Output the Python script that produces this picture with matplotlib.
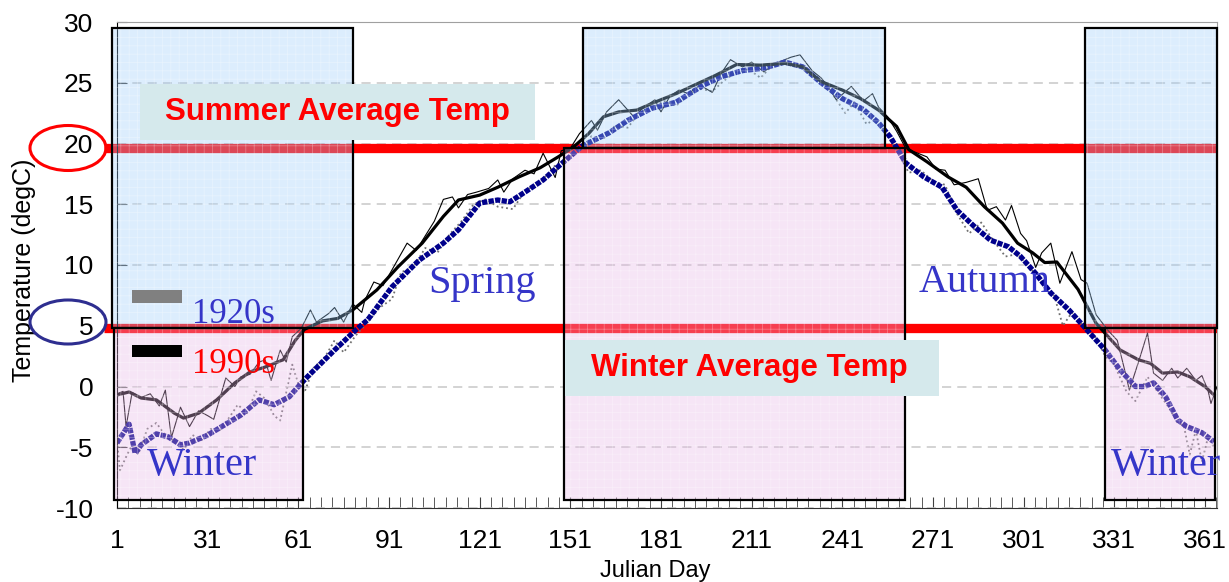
import numpy as np
import matplotlib
matplotlib.use("Agg")
import matplotlib.pyplot as plt
from matplotlib.patches import Rectangle, Ellipse

W, H = 1229, 582

# 1990s daily values (thin black) and smoothed (thick black)
d90_day = [1, 3, 4, 6, 9, 12, 15, 17, 19, 22, 25, 28, 31, 33, 37, 40, 42, 45, 48, 50,
           52, 55, 57, 59, 62, 65, 67, 71, 73, 76, 79, 82, 83, 86, 89, 92, 97, 100, 103, 106,
           109, 112, 114, 117, 120, 124, 127, 129, 132, 136, 139, 142, 146, 148, 151, 154, 158, 160, 163, 167,
           172, 175, 179, 181, 184, 187, 190, 194, 198, 201, 204, 208, 211, 215, 219, 224, 227, 231, 234, 236,
           239, 244, 248, 251, 253, 256, 259, 262, 266, 269, 272, 275, 278, 282, 286, 289, 292, 295, 297, 300,
           302, 305, 307, 310, 313, 317, 320, 322, 325, 329, 332, 335, 336, 339, 342, 344, 347, 350, 352, 355,
           358, 360, 362, 363, 365]
d90_temp = [-0.6, -0.4, -3.3, -0.5, -0.9, -0.6, -1.6, -0.3, -4.2, -1.7, -3.3, -2.0, -2.4, -2.7, 0.7, 0.0, 0.8, 1.0, 2.0, 2.2,
            0.5, 3.0, 2.0, 4.1, 4.8, 6.3, 5.3, 6.0, 6.5, 5.3, 6.8, 6.1, 7.1, 8.6, 8.3, 9.6, 11.8, 11.2, 12.4, 13.6,
            15.4, 15.6, 14.7, 15.8, 16.0, 16.3, 17.0, 16.0, 17.1, 17.8, 17.5, 19.2, 17.2, 19.4, 19.6, 20.8, 21.9, 21.1, 22.6, 23.6,
            22.2, 22.9, 23.6, 22.6, 23.9, 24.4, 24.1, 24.8, 24.2, 25.8, 26.9, 26.3, 26.7, 25.9, 26.6, 27.1, 27.3, 26.0, 25.4, 24.8,
            23.6, 24.7, 23.5, 24.1, 23.0, 22.2, 21.0, 19.6, 19.2, 18.9, 17.9, 17.8, 16.6, 16.8, 17.1, 14.5, 14.8, 13.7, 14.9, 12.6,
            12.0, 9.8, 11.0, 11.8, 8.5, 11.1, 8.8, 8.5, 5.9, 4.6, 3.8, 0.8, -0.3, 2.0, 4.4, 1.1, 0.5, 1.5, 0.7, 1.5,
            0.5, 0.9, -0.3, -1.4, 0.0]

s90_day = [1, 5, 9, 14, 20, 23, 28, 34, 40, 45, 50, 56, 60, 63, 69, 74, 79, 87, 94, 102,
           109, 114, 121, 127, 134, 141, 147, 152, 157, 162, 167, 173, 179, 186, 192, 199, 206, 214, 222, 228,
           234, 241, 247, 253, 259, 263, 269, 276, 282, 288, 294, 299, 304, 308, 312, 319, 325, 329, 333, 339,
           343, 347, 352, 356, 361, 364]
s90_temp = [-0.7, -0.45, -0.95, -1.1, -2.2, -2.6, -2.2, -1.1, 0.3, 1.2, 1.6, 2.2, 3.8, 4.7, 5.4, 5.6, 6.3, 7.95, 9.85, 11.8,
            14.0, 15.35, 15.75, 16.4, 17.25, 18.0, 18.9, 19.7, 20.8, 22.2, 22.6, 22.75, 23.4, 24.1, 24.8, 25.6, 26.5, 26.45, 26.6, 26.3,
            25.1, 24.4, 23.7, 22.75, 21.4, 19.5, 18.5, 17.25, 16.4, 14.8, 13.45, 11.8, 11.0, 10.2, 10.25, 8.0, 5.2, 4.1, 3.0, 2.2,
            1.9, 1.1, 1.2, 0.8, 0.0, -0.7]

# 1920s daily values (grey dotted) and smoothed (blue squares)
d20_day = [1, 2, 4, 6, 8, 11, 14, 17, 20, 23, 26, 29, 32, 35, 38, 41, 44, 47, 50, 53,
           55, 57, 59, 61, 63, 66, 70, 73, 76, 80, 84, 88, 92, 95, 99, 103, 107, 111, 115, 119,
           123, 127, 132, 136, 141, 146, 150, 155, 158, 162, 166, 170, 174, 178, 182, 186, 190, 194, 198, 202,
           206, 210, 214, 218, 222, 226, 230, 234, 238, 242, 245, 249, 252, 256, 260, 263, 267, 271, 275, 279,
           283, 287, 291, 295, 299, 303, 307, 311, 314, 317, 321, 325, 328, 331, 335, 338, 342, 345, 349, 352,
           354, 356, 358, 360, 362, 364]
d20_temp = [-4.5, -6.9, -5.8, -4.8, -5.6, -3.5, -3.0, -4.0, -4.5, -5.2, -4.0, -4.4, -3.5, -3.6, -2.6, -1.5, -2.2, -0.4, -1.0, -2.4,
            -2.8, -0.5, 1.8, 0.2, -0.5, 1.5, 2.5, 3.8, 2.8, 4.2, 5.3, 6.5, 7.2, 9.4, 9.8, 11.4, 11.0, 12.5, 13.6, 15.0,
            15.4, 14.8, 14.6, 16.1, 16.8, 18.2, 18.8, 19.5, 20.6, 20.4, 21.5, 21.3, 22.6, 22.9, 23.5, 23.1, 24.0, 24.5, 24.3, 25.2,
            25.9, 26.1, 25.4, 26.5, 26.8, 26.5, 25.9, 25.2, 24.0, 22.5, 23.4, 21.6, 22.0, 20.6, 19.0, 17.6, 17.8, 16.9, 16.6, 14.2,
            12.6, 13.5, 12.0, 10.7, 10.9, 9.8, 8.6, 7.6, 5.0, 6.1, 4.9, 4.0, 2.5, 1.8, -0.4, -1.2, 0.8, -0.3, -1.7, -3.0,
            -3.2, -5.6, -3.6, -6.2, -4.2, -5.0]

s20_day = [1, 5, 7, 9, 14, 18, 22, 25, 31, 36, 42, 48, 53, 58, 61, 64, 73, 80, 84, 92,
           101, 109, 114, 121, 127, 131, 136, 142, 147, 155, 164, 170, 178, 186, 195, 201, 208, 215, 222, 228,
           234, 241, 248, 253, 257, 262, 268, 274, 279, 285, 290, 296, 300, 305, 310, 316, 320, 328, 333, 338,
           341, 344, 348, 352, 355, 360, 364]
s20_temp = [-4.65, -3.1, -5.5, -4.8, -3.9, -4.15, -4.8, -4.65, -4.0, -3.25, -2.35, -1.1, -1.5, -0.85, 0.0, 0.8, 3.0, 4.65, 5.5, 8.2,
            10.4, 11.8, 12.9, 15.1, 15.35, 15.2, 16.0, 17.0, 18.1, 19.8, 20.9, 21.9, 22.9, 23.4, 24.8, 25.5, 26.0, 26.2, 26.7, 26.3,
            25.0, 23.7, 22.8, 21.7, 20.5, 18.4, 17.25, 16.4, 14.5, 13.1, 12.05, 11.5, 10.7, 9.3, 7.7, 6.3, 5.2, 3.0, 1.35, 0.0,
            0.0, 0.3, -0.85, -2.75, -3.3, -3.8, -4.55]

# season boxes (day start, day end, temp low, temp high)
summer_boxes = [(-0.7, 79.0, 4.85, 29.5), (155.3, 255.1, 19.6, 29.5), (321.2, 365.0, 4.8, 29.5)]
winter_boxes = [(0.0, 62.4, -9.35, 4.85), (149.0, 261.8, -9.35, 19.6), (327.8, 364.3, -9.35, 4.8)]
summer_avg = 19.6
winter_avg = 4.85

plt.rcParams['font.family'] = ['Liberation Sans', 'DejaVu Sans']
plt.rcParams['hatch.linewidth'] = 0.5
plt.rcParams['axes.unicode_minus'] = False

fig = plt.figure(figsize=(W / 100, H / 100), dpi=100)
ax = fig.add_axes([117 / W, 1 - 508 / H, 1100 / W, 486 / H])

def fx(x):
    return x / W

def fy(y):
    return 1 - y / H

ax.set_xlim(1, 365)
ax.set_ylim(-10, 30)

ax.set_yticks(np.arange(-10, 31, 5))
ax.set_xticks(np.arange(1, 366, 30))
ax.set_xticks(np.arange(1, 366, 3.75), minor=True)
ax.yaxis.grid(True, color='#c8c8c8', lw=1.1, linestyle=(0, (6, 4)))
ax.set_axisbelow(True)
ax.tick_params(axis='y', direction='in', length=7, labelsize=19, pad=17, color='#404040')
ax.tick_params(axis='x', which='both', direction='in', length=8, labelsize=19, pad=15, color='#404040')
for s in ['top', 'right']:
    ax.spines[s].set_color('#a0a0a0')
ax.spines['bottom'].set_color('#303030')

ax.set_xlabel('Julian Day', fontsize=17)
ax.xaxis.set_label_coords(0.489, -0.107)
ax.set_ylabel('Temperature (degC)', fontsize=18)
ax.yaxis.set_label_coords(-0.074, 0.49)

# average lines
for yv in [summer_avg, winter_avg]:
    ax.plot([-3.3, 365], [yv, yv], color='#ff0000', lw=6.7, solid_capstyle='butt',
            zorder=1.5, clip_on=False)

# curves
ax.plot(d20_day, d20_temp, color='#707070', lw=1.3, linestyle=':', zorder=2)
ax.plot(s20_day, s20_temp, color='#00008b', lw=3.8, dashes=(1.0, 0.25),
        dash_capstyle='butt', zorder=2.2)
ax.plot(d90_day, d90_temp, color='black', lw=0.8, zorder=2.1)
ax.plot(s90_day, s90_temp, color='black', lw=2.3, zorder=2.3)

# season boxes drawn over the curves
for x0, x1, y0, y1 in summer_boxes:
    ax.add_patch(Rectangle((x0, y0), x1 - x0, y1 - y0, facecolor='#9ccdfa', edgecolor='white',
                           hatch='++', lw=0, alpha=0.35, zorder=3, clip_on=False))
    ax.add_patch(Rectangle((x0, y0), x1 - x0, y1 - y0, fill=False, edgecolor='black',
                           lw=1.6, zorder=4, clip_on=False))
for x0, x1, y0, y1 in winter_boxes:
    ax.add_patch(Rectangle((x0, y0), x1 - x0, y1 - y0, facecolor='#e6b5e6', edgecolor='white',
                           hatch='++', lw=0, alpha=0.35, zorder=3, clip_on=False))
    ax.add_patch(Rectangle((x0, y0), x1 - x0, y1 - y0, fill=False, edgecolor='black',
                           lw=1.6, zorder=4, clip_on=False))

# average temperature labels
ax.add_patch(Rectangle((8.6, 20.3), 130.7, 4.6, facecolor='#d5e9ec', lw=0, zorder=5))
ax.text(74, 22.6, 'Summer Average Temp', color='#ff0000', fontsize=22.5, fontweight='bold',
        ha='center', va='center', zorder=6)
ax.add_patch(Rectangle((149.3, -0.78), 123.7, 4.61, facecolor='#d5e9ec', lw=0, zorder=5, clip_on=False))
ax.text(210.4, 1.5, 'Winter Average Temp', color='#ff0000', fontsize=22.5, fontweight='bold',
        ha='center', va='center', zorder=6)

# legend
ax.add_patch(Rectangle((6, 6.87), 16.6, 1.07, facecolor='#808080', lw=0, zorder=6))
ax.add_patch(Rectangle((6, 2.43), 16.6, 1.0, facecolor='black', lw=0, zorder=6))
serif = ['Liberation Serif', 'DejaVu Serif']
ax.text(25.9, 5.2, '1920s', color='#3535c8', fontsize=25, family=serif, va='baseline', zorder=7)
ax.text(25.9, 1.1, '1990s', color='#ff0000', fontsize=25, family=serif, va='baseline', zorder=7)

# season names
seasons = [(103.9, 7.7, 'Spring'), (266.4, 7.8, 'Autumn'), (11, -7.3, 'Winter'), (330, -7.3, 'Winter')]
for sx, sy, name in seasons:
    ax.text(sx, sy, name, color='#3535c8', fontsize=29, family=serif, va='baseline',
            zorder=7, clip_on=False)

# circles around 20 and 5
fig.patches.append(Ellipse((fx(68), fy(148)), 76 / W, 45 / H, transform=fig.transFigure,
                           fill=False, edgecolor='#ff0000', lw=2.2))
fig.patches.append(Ellipse((fx(68), fy(322)), 76 / W, 44 / H, transform=fig.transFigure,
                           fill=False, edgecolor='#2e2e90', lw=2.2))

fig.savefig('out.png', dpi=100)
